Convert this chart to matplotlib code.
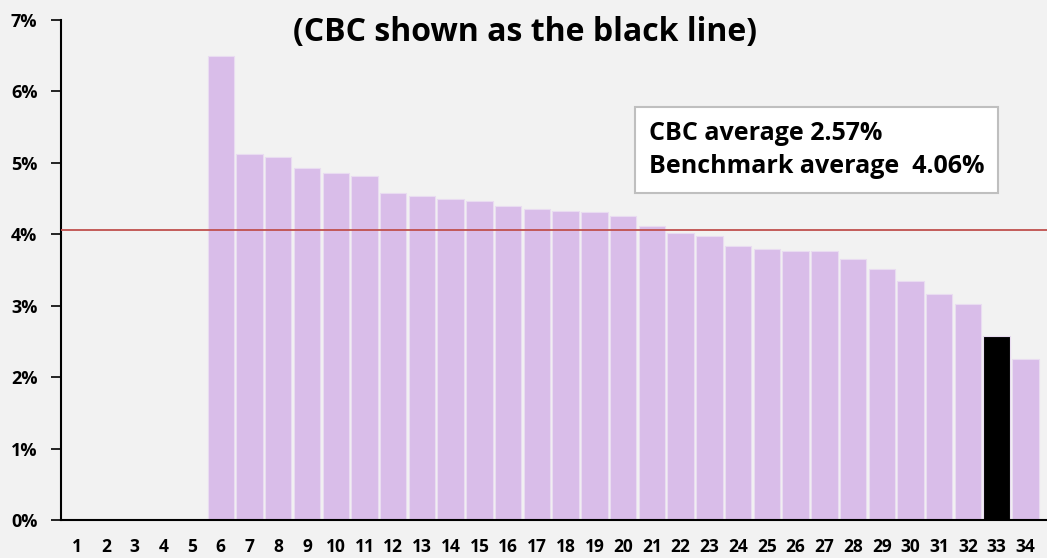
import matplotlib
matplotlib.use("Agg")
import matplotlib.pyplot as plt
from matplotlib.ticker import FuncFormatter

plt.rcParams['font.family'] = ['Open Sans', 'DejaVu Sans']

# data (percent)
categories = list(range(1, 35))
values = [0, 0, 0, 0, 0,
          6.50, 5.12, 5.08, 4.93, 4.86, 4.82, 4.58, 4.54, 4.50, 4.46,
          4.40, 4.36, 4.33, 4.31, 4.25, 4.11, 4.02, 3.98, 3.83, 3.80,
          3.77, 3.76, 3.66, 3.51, 3.34, 3.16, 3.03, 2.57, 2.26]
cbc_index = 33
benchmark_avg = 4.06
cbc_avg = 2.57

BG = '#f2f2f2'
BAR = '#d9bde9'

fig = plt.figure(figsize=(10.47, 5.58), dpi=100, facecolor=BG)
ax = fig.add_axes([61/1047, 38/558, 986/1047, 500/558])
ax.set_facecolor(BG)

colors = ['black' if c == cbc_index else BAR for c in categories]
ax.bar(categories, values, width=0.92, color=colors, edgecolor='#e9dcf1', linewidth=0.8, zorder=2)
ax.axhline(benchmark_avg, color='#c0504d', linewidth=1.3, zorder=3)

ax.set_ylim(0, 7)
ax.set_xlim(0.44, 34.75)
ax.set_yticks(range(0, 8))
ax.yaxis.set_major_formatter(FuncFormatter(lambda v, p: f"{int(v)}%"))
ax.set_xticks(categories)
ax.set_xticklabels([str(c) for c in categories])

for lbl in ax.get_xticklabels():
    lbl.set_fontweight('bold')
    lbl.set_fontsize(12.5)
for lbl in ax.get_yticklabels():
    lbl.set_fontweight('bold')
    lbl.set_fontsize(13)

ax.tick_params(axis='x', length=0, pad=13)
ax.tick_params(axis='y', length=7, width=1.2, direction='out', pad=10)
ax.spines['top'].set_visible(False)
ax.spines['right'].set_visible(False)
ax.spines['left'].set_linewidth(1.5)
ax.spines['bottom'].set_linewidth(1.5)

fig.text(525/1047, 1 - 32/558, "(CBC shown as the black line)", ha='center', va='center',
         fontsize=23, fontweight='bold')

ax.text(0.596, 0.74,
        f"CBC average {cbc_avg:.2f}%\nBenchmark average  {benchmark_avg:.2f}%",
        transform=ax.transAxes, ha='left', va='center', fontsize=18, fontweight='bold',
        linespacing=1.45, zorder=5,
        bbox=dict(boxstyle='square,pad=0.55', facecolor='white', edgecolor='#bfbfbf', linewidth=1.5))

fig.savefig('out.png', dpi=100, facecolor=BG)
